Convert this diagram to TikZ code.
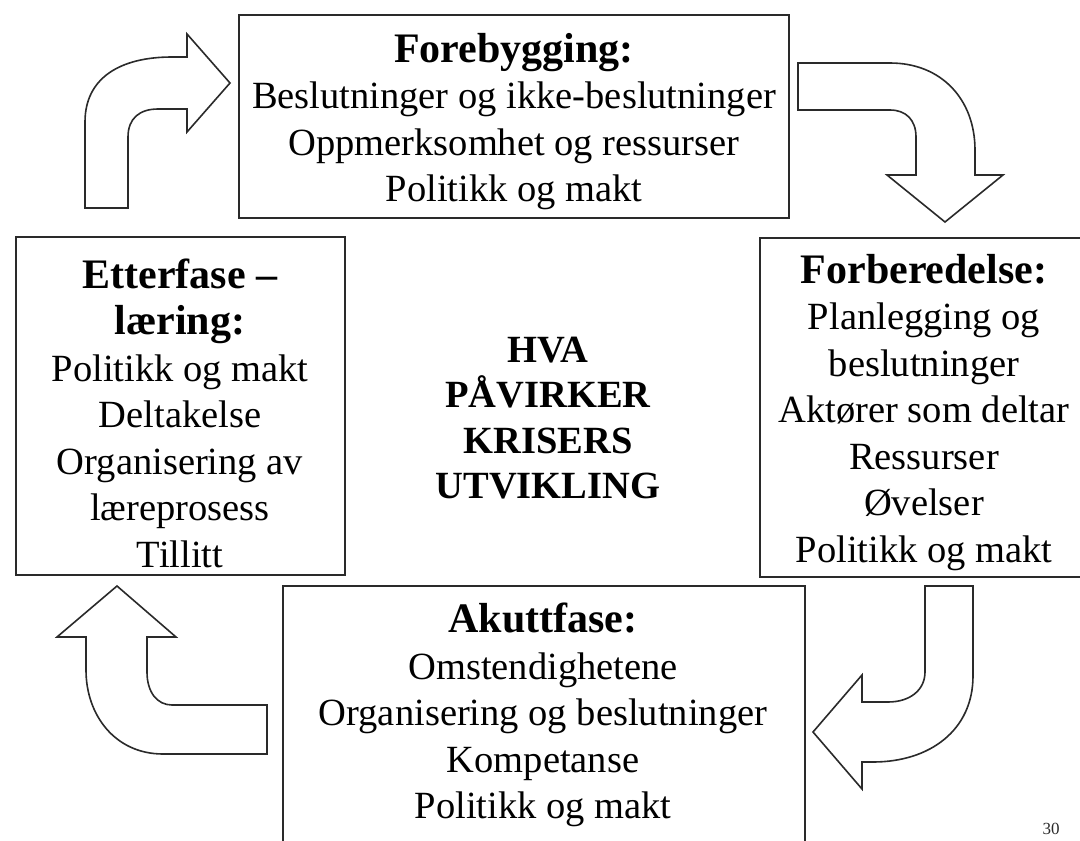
\documentclass[tikz,border=0pt]{standalone}
\usepackage{fontspec}
\setmainfont{Liberation Serif}
\usetikzlibrary{positioning}
\definecolor{inkgray}{HTML}{2A2A2A}
\tikzset{
  phasebox/.style={rectangle, draw=inkgray, line width=2.6pt, inner sep=0pt},
  phasetxt/.style={align=center, inner sep=0pt, font=\fontsize{38.5}{46.5}\selectfont},
  centretxt/.style={align=center, inner sep=0pt, font=\fontsize{38.5}{45.5}\selectfont\bfseries},
  bigarrow/.style={draw=inkgray, line width=1.6pt, fill=white, line join=miter},
  pagenum/.style={font=\fontsize{17}{19}\selectfont, text=inkgray, inner sep=0pt},
}
\newcommand{\PH}[1]{{\fontsize{42}{46.5}\selectfont\bfseries #1}}

\begin{document}
\begin{tikzpicture}[x=1pt, y=-1pt]
\useasboundingbox (0,0) rectangle (1080,841);
\clip (0,0) rectangle (1080,841);

% phase boxes
\node[phasebox, minimum width=550, minimum height=203] (BoxPrev) at (514,116.5) {};
\node[phasebox, minimum width=329, minimum height=338] (BoxLearn) at (180.5,406) {};
\node[phasebox, minimum width=340, minimum height=339] (BoxPrep) at (930,407.5) {};
\node[phasebox, minimum width=522, minimum height=294] (BoxAcute) at (544,733) {};

% texts
\node[phasetxt] (TPrev) at (514,121.5) {\PH{Forebygging:}\\Beslutninger og ikke-beslutninger\\Oppmerksomhet og ressurser\\Politikk og makt};
\node[phasetxt] (TLearn) at (180,413) {\PH{Etterfase –}\\\PH{læring:}\\Politikk og makt\\Deltakelse\\Organisering av\\læreprosess\\Tillitt};
\node[phasetxt] (TPrep) at (924,412.5) {\PH{Forberedelse:}\\Planlegging og\\beslutninger\\Aktører som deltar\\Ressurser\\Øvelser\\Politikk og makt};
\node[phasetxt] (TAcute) at (543,715) {\PH{Akuttfase:}\\Omstendighetene\\Organisering og beslutninger\\Kompetanse\\Politikk og makt};
\node[centretxt] (TMid) at (548,418) {HVA\\PÅVIRKER\\KRISERS\\UTVIKLING};

% block arrows round the cycle
\draw[bigarrow] (85,208) -- (85,122) .. controls (85,78) and (120,57) .. (172,57) -- (187,57)
  -- (187,34) -- (230,83) -- (187,132) -- (187,109) -- (158,109)
  .. controls (140,109) and (128,118) .. (128,137) -- (128,208) -- cycle;
\draw[bigarrow] (798,63) -- (890,63) .. controls (942,63) and (975,100) .. (975,150) -- (975,175)
  -- (1003,175) -- (945,222) -- (887,175) -- (916,175) -- (916,137)
  .. controls (916,120) and (906,110) .. (890,110) -- (798,110) -- cycle;
\draw[bigarrow] (925,586) -- (973,586) -- (973,676) .. controls (973,730) and (930,762) .. (873,762)
  -- (862,762) -- (862,789) -- (813,732) -- (862,675) -- (862,702) -- (888,702)
  .. controls (910,702) and (925,690) .. (925,672) -- cycle;
\draw[bigarrow] (117,586) -- (176,637) -- (147,637) -- (147,672)
  .. controls (147,692) and (157,705) .. (172,705) -- (267,705) -- (267,754) -- (163,754)
  .. controls (115,754) and (86,715) .. (86,670) -- (86,637) -- (57,637) -- cycle;

\node[pagenum] (PageNo) at (1051,829) {30};
\end{tikzpicture}
\end{document}
